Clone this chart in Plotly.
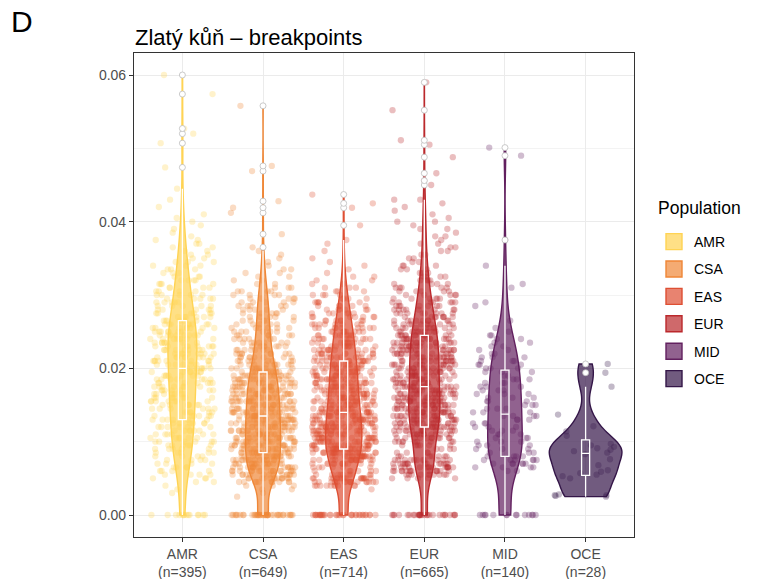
import numpy as np
import plotly.graph_objects as go

# ---------------- data ----------------
populations = ["AMR", "CSA", "EAS", "EUR", "MID", "OCE"]
n_labels = [395, 649, 714, 665, 140, 28]
colors = ["#FFD353", "#EF8737", "#DE4F33", "#BB292C", "#62205F", "#341648"]

# frequency tables: count of breakpoints at each level (level i = i * 0.0005)
level_step = 0.0005
amr_counts = [14, 0, 0, 0, 0, 0, 1, 1, 1,
              2, 3, 4, 4, 4, 4, 4, 4, 5,
              5, 6, 6, 6, 6, 6, 6, 6,
              6, 6, 6, 6, 7, 7, 7, 7, 7, 7, 7, 7, 7, 7, 6,
              7, 8, 8, 8, 8, 8, 8, 8, 8, 8, 8, 8,
              6, 6, 6, 5, 5, 5, 5, 5, 4,
              4, 4, 4, 3, 3, 3, 3, 3, 2, 2, 2, 2, 2, 2,
              1, 1, 1, 1, 1, 1, 1, 0, 1, 0, 1, 0, 0, 1]
amr_tail = [0.0474, 0.0507, 0.0520, 0.0527, 0.0574, 0.0600]

csa_counts = [41, 0, 0, 0, 0, 1, 1, 2, 3,
              11, 13, 14, 15, 15, 15, 15, 15,
              15, 15, 15, 15, 15, 15, 15, 15, 15, 15, 15,
              14, 14, 14, 14, 14, 14, 13, 13, 13, 13, 13, 13,
              9, 9, 8, 8, 8, 7, 7, 7, 6, 6,
              6, 6, 5, 5, 5, 5, 5, 5, 5, 5, 4, 4,
              3, 2, 2, 2, 2, 2, 1, 1, 1, 1, 1, 1]
csa_tail = [0.0383, 0.0412, 0.0419, 0.0428, 0.0469, 0.0476, 0.0558]

eas_counts = [35, 0, 0, 0, 0, 0, 0, 1,
              10, 18, 18, 9, 6, 6, 12, 16, 18, 20, 20,
              17, 17, 17, 17, 17, 17, 17, 17, 17, 17,
              14, 14, 14, 14, 14, 14, 14, 13, 13, 13, 13, 13, 13,
              12, 12, 11, 11, 10, 10, 10, 9, 9, 9,
              8, 7, 7, 6, 6, 5, 5, 4, 4, 3,
              3, 2, 2, 2, 1, 1, 1, 1, 1, 0, 1, 0, 1, 1]
eas_tail = [0.0395, 0.0419, 0.0425, 0.0437]

eur_counts = [28, 0, 0, 0, 0, 0, 0, 0, 0, 0,
              5, 10, 14, 15, 14, 11, 7, 4,
              4, 6, 9, 11, 13, 14,
              14, 14, 14, 14, 14, 14, 14, 14, 14, 14, 14, 14,
              12, 12, 12, 12, 13, 13, 13, 13, 13, 13, 13, 13, 13,
              11, 11, 10, 10, 9, 8, 8, 8, 7, 7,
              6, 5, 5, 5, 4, 4, 4, 3, 3, 3, 2, 2,
              2, 2, 2, 2, 1, 2, 1, 2, 1, 2, 1, 1, 1, 1, 1, 2]
eur_tail = [0.0450, 0.0456, 0.0466, 0.0488, 0.0505, 0.0511, 0.0552, 0.0590]

mid_counts = [14, 0, 0, 0, 0, 0, 0, 0, 0, 0, 0, 0,
              2, 4, 6, 6, 4,
              3, 3, 3, 3, 3, 3, 3, 3, 3, 3, 4,
              3, 3, 3, 3, 3, 3, 3, 3, 3, 3, 2, 3,
              3, 3, 3, 3, 2, 2, 2, 2, 2, 2,
              1, 1, 0, 1, 0, 0, 0, 1, 1, 0, 0, 0, 1,
              1, 0, 0, 0, 0, 1, 0, 0, 0, 0, 0, 0, 1]
mid_tail = [0.0490, 0.0501]

oce_values = [0.0025, 0.0026, 0.0027, 0.0027, 0.0028, 0.0050, 0.0053, 0.0055,
              0.0057, 0.0059, 0.0061, 0.0068, 0.0076, 0.0083, 0.0085, 0.0087,
              0.0089, 0.0091, 0.0093, 0.0095, 0.0097, 0.0108, 0.0114, 0.0121,
              0.0137, 0.0175, 0.0194, 0.0206]


def expand(counts, tail):
    levels = np.round(np.arange(len(counts)) * level_step, 4)
    return np.concatenate([np.repeat(levels, counts), np.asarray(tail, float)])


group_values = [
    expand(amr_counts, amr_tail),
    expand(csa_counts, csa_tail),
    expand(eas_counts, eas_tail),
    expand(eur_counts, eur_tail),
    expand(mid_counts, mid_tail),
    np.asarray(oce_values, float),
]


def nrd0(v):
    v = np.asarray(v, float)
    sd = np.std(v, ddof=1)
    q75, q25 = np.percentile(v, [75, 25])
    lo = min(sd, (q75 - q25) / 1.34)
    if lo <= 0:
        lo = sd if sd > 0 else 1e-3
    return 0.9 * lo * len(v) ** -0.2


def kde_peak(v, bw):
    v = np.asarray(v, float)
    grid = np.linspace(v.min(), v.max(), 512)
    z = (grid[:, None] - v[None, :]) / bw
    dens = np.exp(-0.5 * z * z).sum(axis=1) / (len(v) * bw * np.sqrt(2 * np.pi))
    return dens.max()


bandwidths = [nrd0(v) for v in group_values]
peaks = [kde_peak(v, b) for v, b in zip(group_values, bandwidths)]
# ggplot "area" scaling: every violin has the same area, widest one gets 0.9
violin_widths = [0.9 * p / max(peaks) for p in peaks]


def rgba(hex_color, a):
    h = hex_color.lstrip("#")
    r, g, b = int(h[0:2], 16), int(h[2:4], 16), int(h[4:6], 16)
    return f"rgba({r},{g},{b},{a})"


def jitter_offsets(n, seed):
    # deterministic horizontal jitter (position only), spread over +/-0.4
    k = np.arange(n) + 1.0
    u = np.sin(k * 12.9898 + seed * 78.233) * 43758.5453
    return ((u - np.floor(u)) - 0.5) * 0.8


FONT = "Liberation Sans, Arial, Helvetica, sans-serif"
W, H = 762, 579
ML, MR, MT, MB = 134, 128, 53, 42
y_range = [-0.003, 0.063]
x_range = [0.4, 6.6]
plot_w = W - ML - MR
plot_h = H - MT - MB

fig = go.Figure()

# jittered points (base axes, drawn below violins)
for i, (pop, vals, col) in enumerate(zip(populations, group_values, colors)):
    pos = i + 1
    fig.add_trace(go.Scatter(
        x=pos + jitter_offsets(len(vals), i + 1), y=vals, mode="markers",
        marker=dict(color=col, size=6.3, opacity=0.3, line=dict(width=0)),
        showlegend=False, hoverinfo="skip",
    ))

# violins and boxes (overlay axes, drawn above points)
for i, (pop, vals, col) in enumerate(zip(populations, group_values, colors)):
    pos = i + 1
    fig.add_trace(go.Violin(
        x=[pos] * len(vals), y=vals, name=pop, legendgroup=pop, showlegend=False,
        width=violin_widths[i], scalegroup=pop, scalemode="width", spanmode="hard",
        bandwidth=bandwidths[i], points=False,
        box_visible=False, meanline_visible=False,
        fillcolor=rgba(col, 0.7), line=dict(color=col, width=1.4),
        xaxis="x2", yaxis="y2", hoveron="violins",
    ))
for i, (pop, vals, col) in enumerate(zip(populations, group_values, colors)):
    pos = i + 1
    fig.add_trace(go.Box(
        x=[pos] * len(vals), y=vals, width=0.1, boxpoints="outliers",
        quartilemethod="inclusive", whiskerwidth=0,
        fillcolor="rgba(0,0,0,0)", line=dict(color="white", width=1.3),
        marker=dict(color="white", size=6, line=dict(color="#BDBDBD", width=0.8)),
        jitter=0, pointpos=0,
        showlegend=False, legendgroup=pop, xaxis="x2", yaxis="y2",
    ))

# legend keys (filled squares like the ggplot keys; no data of their own)
for pop, col in zip(populations, colors):
    fig.add_trace(go.Scatter(
        x=[None], y=[None], mode="markers", name=pop, legendgroup=pop,
        marker=dict(symbol="square", size=16, color=rgba(col, 0.7),
                    line=dict(color=col, width=1.4)),
        showlegend=True, hoverinfo="skip",
    ))

tick_font = dict(family=FONT, size=14, color="#4D4D4D")
fig.update_layout(
    template="none",
    width=W, height=H,
    margin=dict(l=ML, r=MR, t=MT, b=MB, pad=0, autoexpand=False),
    paper_bgcolor="white", plot_bgcolor="white",
    violinmode="overlay", boxmode="overlay",
    font=dict(family=FONT, color="#000000"),
    xaxis=dict(
        range=x_range, tickmode="array", tickvals=list(range(1, 7)),
        ticktext=[f"{p}<br>(n={n})" for p, n in zip(populations, n_labels)],
        tickfont=tick_font, showgrid=True, gridcolor="#EBEBEB", gridwidth=1.07,
        zeroline=False, showline=True, mirror=True, linecolor="#333333", linewidth=1.07,
        ticks="outside", ticklen=4, tickcolor="#333333", tickwidth=1.07,
        automargin=False,
    ),
    yaxis=dict(
        range=y_range, tickmode="array", tickvals=[0, 0.02, 0.04, 0.06],
        ticktext=["0.00", "0.02", "0.04", "0.06"],
        tickfont=tick_font, showgrid=True, gridcolor="#EBEBEB", gridwidth=1.07,
        minor=dict(tickvals=[0.01, 0.03, 0.05], showgrid=True, gridcolor="#F3F3F3",
                   gridwidth=1, ticks=""),
        zeroline=False, showline=True, mirror=True, linecolor="#333333", linewidth=1.07,
        ticks="outside", ticklen=4, tickcolor="#333333", tickwidth=1.07,
        automargin=False,
    ),
    xaxis2=dict(overlaying="x", range=x_range, visible=False, showgrid=False,
                zeroline=False, automargin=False),
    yaxis2=dict(overlaying="y", range=y_range, visible=False, showgrid=False,
                zeroline=False, automargin=False),
    legend=dict(
        font=dict(family=FONT, size=14, color="#000000"),
        x=(654 - ML) / plot_w, xanchor="left",
        y=(H - MB - 226) / plot_h, yanchor="top",
        tracegroupgap=6.2, bgcolor="rgba(0,0,0,0)",
    ),
    showlegend=True,
)


def px_x(px):
    return (px - ML) / plot_w


def px_y(py):
    return (H - MB - py) / plot_h


fig.add_annotation(text="Population", xref="paper", yref="paper",
                   x=px_x(656), y=px_y(208), xanchor="left", yanchor="middle",
                   showarrow=False, font=dict(family=FONT, size=17.5, color="#000000"))
fig.add_annotation(text="Zlatý kůň – breakpoints", xref="paper", yref="paper",
                   x=px_x(133), y=px_y(37), xanchor="left", yanchor="middle",
                   showarrow=False, font=dict(family=FONT, size=22, color="#000000"))
fig.add_annotation(text="D", xref="paper", yref="paper",
                   x=px_x(9), y=px_y(22), xanchor="left", yanchor="middle",
                   showarrow=False, font=dict(family=FONT, size=30, color="#000000"))

fig.write_html("out.html")
